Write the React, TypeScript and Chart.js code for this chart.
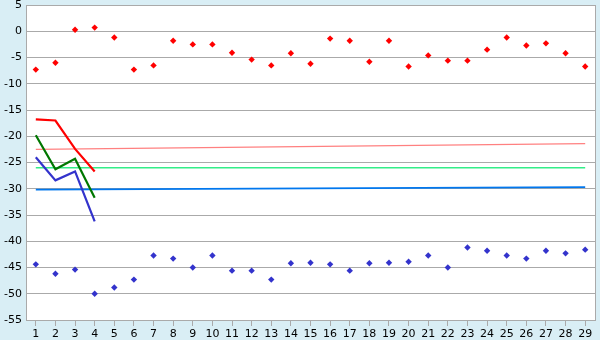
import React, { useEffect, useRef } from "react";
import { Chart, registerables } from "chart.js";

Chart.register(...registerables);

const categories = ["1","2","3","4","5","6","7","8","9","10","11","12","13","14","15","16","17","18","19","20","21","22","23","24","25","26","27","28","29"];

const redPoints = [-7.3,-6.0,0.3,0.7,-1.2,-7.3,-6.5,-1.8,-2.5,-2.5,-4.1,-5.4,-6.5,-4.2,-6.2,-1.4,-1.8,-5.8,-1.8,-6.7,-4.6,-5.6,-5.6,-3.5,-1.2,-2.7,-2.3,-4.2,-6.7];
const bluePoints = [-44.4,-46.2,-45.4,-50.0,-48.8,-47.3,-42.7,-43.3,-45.0,-42.7,-45.6,-45.6,-47.3,-44.2,-44.1,-44.4,-45.6,-44.2,-44.1,-43.9,-42.7,-45.0,-41.2,-41.8,-42.7,-43.3,-41.8,-42.3,-41.6];

const redLine = [-16.8,-17.0,-22.4,-26.7];
const greenLine = [-19.8,-26.3,-24.3,-31.7];
const blueLine = [-24.0,-28.4,-26.7,-36.2];

// horizontal reference lines: value at first and last category
const pinkRefStartEnd = [-22.5,-21.4];
const greenRefStartEnd = [-26.0,-26.0];
const blueRefStartEnd = [-30.15,-29.7];

const yTicks = { min: -55, max: 5, step: 5 };

function refData(pair: number[]) {
  return [
    { x: categories[0], y: pair[0] },
    { x: categories[categories.length - 1], y: pair[1] },
  ];
}

const bgPlugin = {
  id: "bgPlugin",
  beforeDraw(chart: any) {
    const { ctx, chartArea, width, height } = chart;
    ctx.save();
    ctx.fillStyle = "#d9eef5";
    ctx.fillRect(0, 0, width, height);
    ctx.fillStyle = "#ffffff";
    ctx.fillRect(chartArea.left, chartArea.top, chartArea.right - chartArea.left, chartArea.bottom - chartArea.top);
    ctx.restore();
  },
  afterDraw(chart: any) {
    const { ctx, chartArea } = chart;
    ctx.save();
    ctx.strokeStyle = "#aaaaaa";
    ctx.lineWidth = 1;
    ctx.beginPath();
    ctx.moveTo(Math.round(chartArea.right) + 0.5, chartArea.top);
    ctx.lineTo(Math.round(chartArea.right) + 0.5, chartArea.bottom);
    ctx.stroke();
    ctx.restore();
  },
};

export default function App() {
  const ref = useRef<HTMLCanvasElement>(null);
  useEffect(() => {
    document.body.style.margin = "0";
    const canvas = ref.current!;
    Chart.defaults.font.family = "'DejaVu Sans', sans-serif";
    Chart.defaults.font.size = 11;
    Chart.defaults.color = "#000000";
    const pointDs = (data: number[], color: string) => ({
      data,
      showLine: false,
      pointStyle: "rectRot",
      pointRadius: 3.2,
      pointBackgroundColor: color,
      pointBorderColor: color,
      pointBorderWidth: 0,
      borderColor: color,
      backgroundColor: color,
    });
    const lineDs = (data: any, color: string, width: number) => ({
      data,
      borderColor: color,
      backgroundColor: color,
      borderWidth: width,
      pointRadius: 0,
      tension: 0,
      spanGaps: true,
    });
    const chart = new Chart(canvas, {
      type: "line",
      data: {
        labels: categories,
        datasets: [
          pointDs(redPoints, "#ff0000"),
          pointDs(bluePoints, "#3333cc"),
          lineDs(redLine, "#ff0000", 2.2),
          lineDs(greenLine, "#007700", 2.2),
          lineDs(blueLine, "#3333cc", 2.2),
          lineDs(refData(pinkRefStartEnd), "#ff8080", 1.2),
          lineDs(refData(greenRefStartEnd), "#33ee88", 1.6),
          lineDs(refData(blueRefStartEnd), "#0077ee", 1.8),
        ] as any,
      },
      options: {
        responsive: false,
        animation: false,
        layout: { padding: { top: 5, right: 5, left: 0, bottom: 0 } },
        plugins: { legend: { display: false }, tooltip: { enabled: false } },
        scales: {
          x: {
            offset: true,
            grid: { display: true, drawOnChartArea: false, drawTicks: true, tickLength: 6, color: "#aaaaaa", offset: false },
            border: { color: "#aaaaaa" },
            ticks: { autoSkip: false, maxRotation: 0, padding: 2, color: "#000" },
            afterFit(scale: any) { scale.height = 20; scale.paddingLeft = 0; scale.paddingRight = 0; },
          },
          y: {
            min: yTicks.min,
            max: yTicks.max,
            ticks: { stepSize: yTicks.step, padding: 4, color: "#000" },
            grid: { color: "#aaaaaa", drawTicks: false },
            border: { color: "#aaaaaa" },
            afterFit(scale: any) { scale.width = 26; scale.paddingTop = 0; scale.paddingBottom = 0; },
          },
        },
      } as any,
      plugins: [bgPlugin],
    });
    return () => chart.destroy();
  }, []);
  return <canvas ref={ref} width={600} height={340} style={{ display: "block" }} />;
}
